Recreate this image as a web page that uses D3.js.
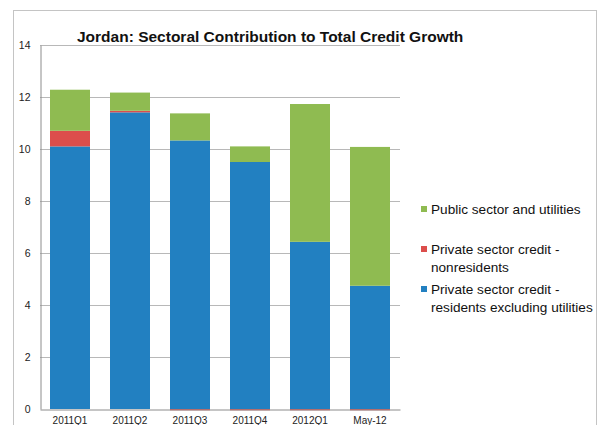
<!DOCTYPE html>
<html>
<head>
<meta charset="utf-8">
<script src="https://cdn.jsdelivr.net/npm/d3@7"></script>
<style>
  html, body { margin: 0; padding: 0; background: #fff; }
  svg { display: block; font-family: "Liberation Sans", Arial, sans-serif; }
</style>
</head>
<body>
<svg id="chart" width="599" height="425"></svg>
<script>
const title = "Jordan: Sectoral Contribution to Total Credit Growth";
const categories = ["2011Q1", "2011Q2", "2011Q3", "2011Q4", "2012Q1", "May-12"];
const residents = [10.1, 11.41, 10.33, 9.5, 6.43, 4.74];
const nonresidents = [0.6, 0.06, -0.05, -0.05, -0.05, -0.05];
const publicSector = [1.58, 0.70, 1.04, 0.60, 5.30, 5.34];
const yTicks = [0, 2, 4, 6, 8, 10, 12, 14];
const seriesKeys = ["residents", "nonresidents", "public"];
const colors = ["#2280c1", "#dc4e4c", "#8fbb51"];
const legendLines = [
  ["Public sector and utilities"],
  ["Private sector credit -", "nonresidents"],
  ["Private sector credit -", "residents excluding utilities"]
];
const legendColors = ["#8fbb51", "#dc4e4c", "#2280c1"];

const rows = categories.map((c, i) => ({
  cat: c, residents: residents[i], nonresidents: nonresidents[i], public: publicSector[i]
}));

const svg = d3.select("#chart");
const plot = {left: 40, right: 400, top: 45, bottom: 409};

// outer frame
svg.append("rect").attr("x", 13.5).attr("y", 10.5).attr("width", 583).attr("height", 440)
  .attr("fill", "none").attr("stroke", "#c4c4c4").attr("stroke-width", 1);

const x = d3.scaleBand().domain(categories).range([plot.left, plot.right])
  .paddingInner(1/3).paddingOuter(1/6);
const y = d3.scaleLinear().domain([0, 14]).range([plot.bottom, plot.top]);

// gridlines
svg.append("g").selectAll("line").data(yTicks.filter(d => d > 0)).join("line")
  .attr("x1", plot.left).attr("x2", plot.right)
  .attr("y1", d => Math.round(y(d)) + 0.5).attr("y2", d => Math.round(y(d)) + 0.5)
  .attr("stroke", "#b8b8b8").attr("stroke-width", 1);

// stacked bars
const stack = d3.stack().keys(seriesKeys).offset(d3.stackOffsetDiverging);
const stacked = stack(rows);
svg.append("g").selectAll("g").data(stacked).join("g")
  .attr("fill", (d, i) => colors[i])
  .selectAll("rect").data(d => d).join("rect")
  .attr("x", d => x(d.data.cat))
  .attr("width", x.bandwidth())
  .attr("y", d => y(Math.max(d[0], d[1])))
  .attr("height", d => Math.max(1, Math.abs(y(d[0]) - y(d[1]))));

// axes
const yAxis = d3.axisLeft(y).tickValues(yTicks).tickSize(0).tickPadding(10).tickFormat(d3.format("d"));
const gy = svg.append("g").attr("transform", `translate(${plot.left + 0.5},0)`).call(yAxis);
gy.select(".domain").attr("stroke", "#8c8c8c");
gy.selectAll("text").attr("font-size", 10.5).attr("fill", "#222")
  .attr("font-family", "Liberation Sans, Arial, sans-serif");

const xAxis = d3.axisBottom(x).tickSize(0).tickPadding(7);
const gx = svg.append("g").attr("transform", `translate(0,${plot.bottom + 0.5})`).call(xAxis);
gx.select(".domain").attr("stroke", "#8c8c8c");
gx.selectAll("text").attr("font-size", 10).attr("fill", "#222")
  .attr("font-family", "Liberation Sans, Arial, sans-serif");

// title
svg.append("text").attr("x", 77).attr("y", 42)
  .attr("font-size", 15.5).attr("font-weight", "bold").attr("fill", "#111")
  .text(title);

// legend
const legendY = [209.5, 249.5, 289.5];
legendLines.forEach((lines, i) => {
  const g = svg.append("g");
  g.append("rect").attr("x", 421).attr("y", legendY[i] - 3.5).attr("width", 6).attr("height", 6)
    .attr("fill", legendColors[i]);
  lines.forEach((t, j) => {
    g.append("text").attr("x", 431).attr("y", legendY[i] + 4.5 + j * 18)
      .attr("font-size", 13.6).attr("fill", "#111").text(t);
  });
});
</script>
</body>
</html>
